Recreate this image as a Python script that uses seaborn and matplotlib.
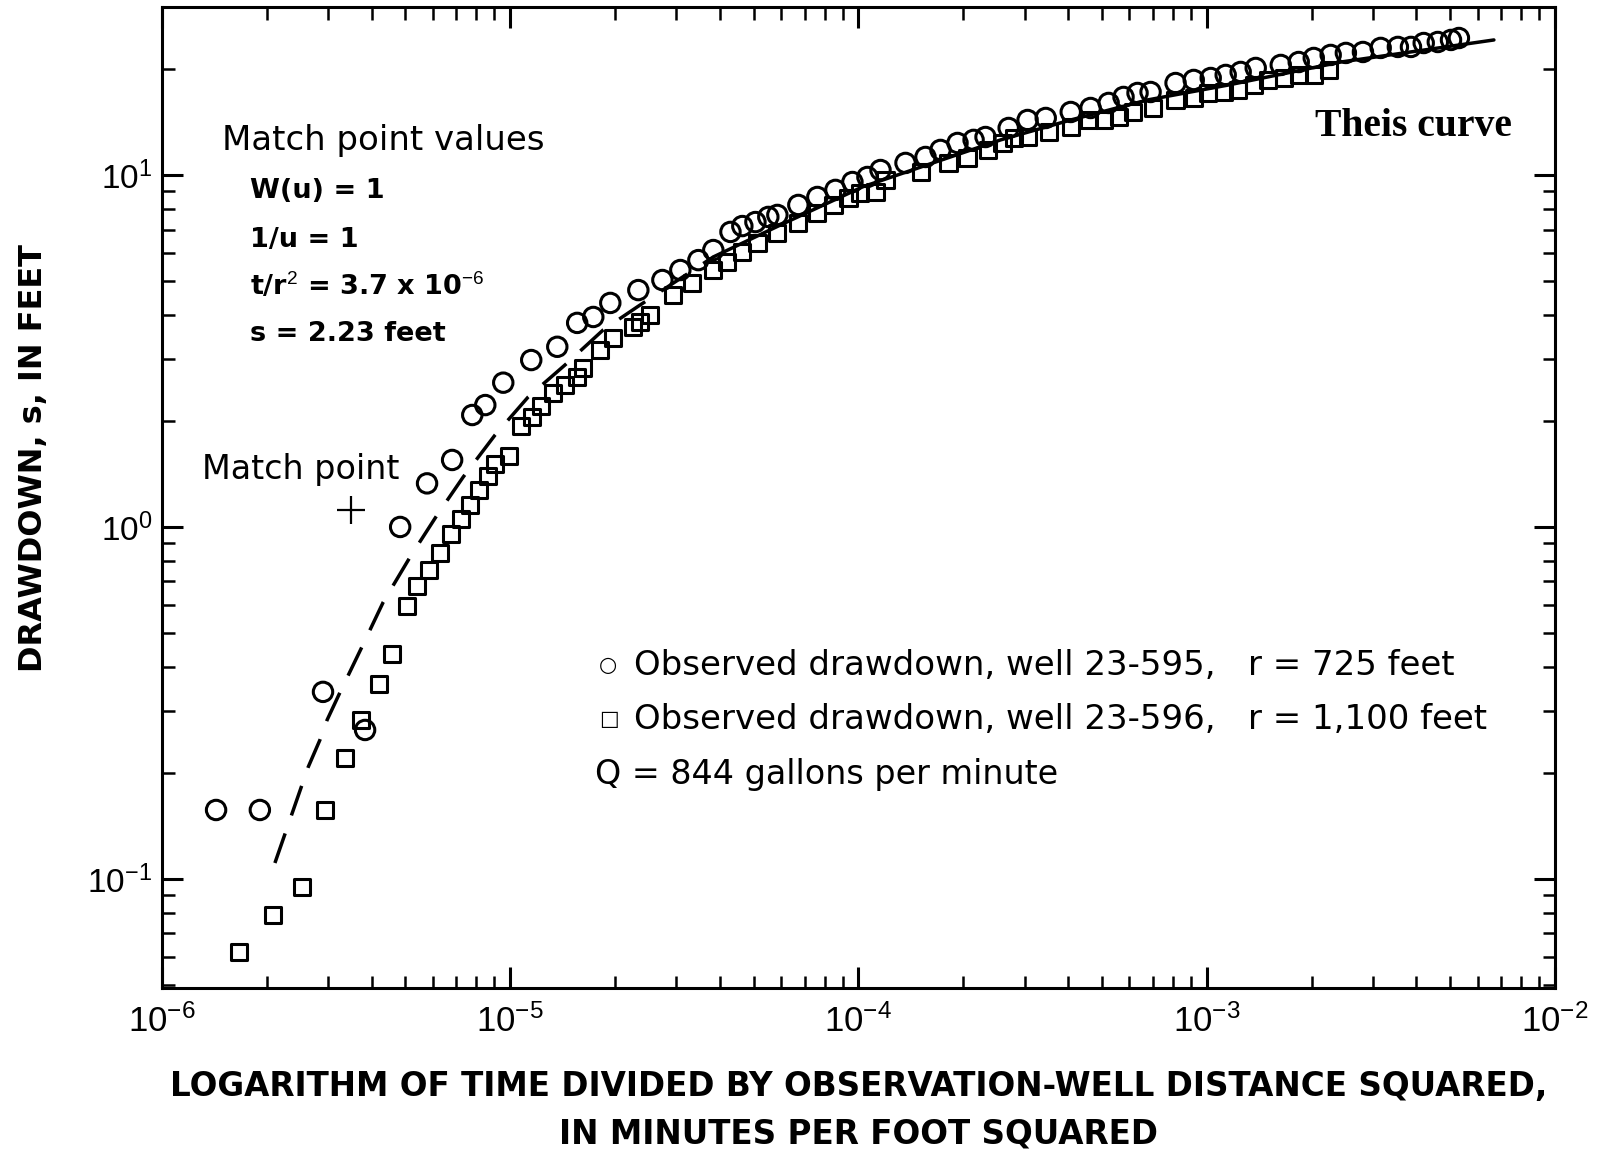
import matplotlib
matplotlib.use('Agg')
import matplotlib.pyplot as plt
import numpy as np
import pandas as pd
import seaborn as sns

# well 23-595 (circles): t/r^2 in min/ft^2, drawdown in feet
circ_t = [1.43e-6, 1.91e-6, 2.90e-6, 3.83e-6, 4.83e-6, 5.77e-6, 6.81e-6, 7.78e-6, 8.48e-6, 9.55e-6,
          1.149e-5, 1.365e-5, 1.557e-5, 1.732e-5, 1.938e-5, 2.333e-5, 2.735e-5, 3.08e-5, 3.47e-5, 3.83e-5,
          4.29e-5, 4.64e-5, 5.06e-5, 5.51e-5, 5.85e-5, 6.72e-5, 7.62e-5, 8.59e-5, 9.61e-5, 1.061e-4,
          1.157e-4, 1.365e-4, 1.558e-4, 1.720e-4, 1.925e-4, 2.141e-4, 2.317e-4, 2.70e-4, 3.06e-4, 3.45e-4,
          4.07e-4, 4.64e-4, 5.23e-4, 5.77e-4, 6.33e-4, 6.90e-4, 8.14e-4, 9.18e-4, 1.027e-3, 1.134e-3,
          1.252e-3, 1.383e-3, 1.632e-3, 1.838e-3, 2.03e-3, 2.27e-3, 2.51e-3, 2.81e-3, 3.16e-3, 3.54e-3,
          3.86e-3, 4.20e-3, 4.61e-3, 5.03e-3, 5.30e-3]
circ_s = [0.157, 0.157, 0.340, 0.265, 1.00, 1.33, 1.55, 2.08, 2.22, 2.57,
          2.98, 3.25, 3.80, 3.95, 4.33, 4.71, 5.03, 5.37, 5.73, 6.12,
          6.89, 7.16, 7.35, 7.60, 7.70, 8.22, 8.66, 9.07, 9.55, 9.87,
          10.33, 10.82, 11.25, 11.78, 12.33, 12.58, 12.82, 13.60, 14.33, 14.52,
          15.10, 15.50, 16.02, 16.66, 17.10, 17.21, 18.25, 18.62, 18.86, 19.24,
          19.62, 20.14, 20.54, 20.94, 21.50, 21.93, 22.22, 22.36, 22.96, 23.11,
          23.11, 23.71, 23.87, 24.19, 24.50]

# well 23-596 (squares)
sq_t = [1.665e-6, 2.08e-6, 2.525e-6, 2.94e-6, 3.36e-6, 3.73e-6, 4.20e-6, 4.58e-6, 5.06e-6, 5.40e-6,
        5.85e-6, 6.29e-6, 6.77e-6, 7.23e-6, 7.67e-6, 8.14e-6, 8.65e-6, 9.05e-6, 9.93e-6, 1.075e-5,
        1.157e-5, 1.228e-5, 1.329e-5, 1.439e-5, 1.557e-5, 1.621e-5, 1.814e-5, 1.977e-5, 2.256e-5, 2.363e-5,
        2.525e-5, 2.94e-5, 3.33e-5, 3.83e-5, 4.20e-5, 4.64e-5, 5.13e-5, 5.85e-5, 6.72e-5, 7.62e-5,
        8.48e-5, 9.36e-5, 1.013e-4, 1.119e-4, 1.196e-4, 1.508e-4, 1.814e-4, 2.057e-4, 2.35e-4, 2.593e-4,
        2.79e-4, 3.06e-4, 3.52e-4, 4.07e-4, 4.58e-4, 5.06e-4, 5.59e-4, 6.13e-4, 7.00e-4, 8.14e-4,
        9.18e-4, 1.007e-3, 1.119e-3, 1.228e-3, 1.365e-3, 1.497e-3, 1.665e-3, 1.838e-3, 2.03e-3, 2.243e-3]
sq_s = [0.0620, 0.0790, 0.0949, 0.157, 0.221, 0.283, 0.358, 0.436, 0.597, 0.680,
        0.755, 0.844, 0.955, 1.054, 1.155, 1.274, 1.396, 1.51, 1.59, 1.936,
        2.053, 2.21, 2.40, 2.53, 2.67, 2.83, 3.18, 3.44, 3.70, 3.82,
        4.00, 4.56, 4.93, 5.37, 5.66, 6.04, 6.41, 6.84, 7.31, 7.80,
        8.22, 8.61, 8.89, 8.95, 9.68, 10.2, 10.82, 11.18, 11.78, 12.33,
        12.74, 12.82, 13.25, 13.69, 14.33, 14.33, 14.61, 15.10, 15.50, 16.34,
        16.55, 17.10, 17.21, 17.44, 18.02, 18.62, 18.86, 19.24, 19.24, 19.88]

# Theis type curve as drawn (dashed part, then solid part)
theis_dash_t = [2.11e-6, 2.44e-6, 2.63e-6, 2.84e-6, 2.98e-6, 3.25e-6, 3.75e-6, 4.32e-6, 5.16e-6,
                6.17e-6, 7.33e-6, 9.05e-6, 1.126e-5, 1.439e-5, 1.85e-5, 2.317e-5, 2.94e-5, 3.83e-5]
theis_dash_s = [0.111, 0.168, 0.208, 0.248, 0.283, 0.340, 0.456, 0.612, 0.822,
                1.082, 1.387, 1.826, 2.34, 2.89, 3.63, 4.22, 4.93, 5.85]
theis_solid_t = [3.83e-5, 5.97e-5, 1.027e-4, 2.56e-4, 4.07e-4, 6.77e-4, 1.149e-3, 2.43e-3, 6.68e-3]
theis_solid_s = [5.85, 7.21, 9.25, 12.58, 14.33, 16.34, 18.0, 20.94, 24.19]

match_t = [3.5e-6]
match_s = [1.12]

sns.set_style('ticks')
plt.rcParams['font.family'] = ['Liberation Sans', 'DejaVu Sans']
plt.rcParams['mathtext.fontset'] = 'custom'
plt.rcParams['mathtext.rm'] = 'Liberation Sans'
plt.rcParams['mathtext.it'] = 'Liberation Sans:italic'
plt.rcParams['mathtext.bf'] = 'Liberation Sans:bold'
plt.rcParams['axes.linewidth'] = 2.2
for key in ['text.color', 'axes.labelcolor', 'xtick.color', 'ytick.color', 'axes.edgecolor']:
    plt.rcParams[key] = 'black'

fig = plt.figure(figsize=(16.15, 11.55), dpi=100)
ax = fig.add_axes([0.1003, 0.1446, 0.8625, 0.8493])
ax.set_xscale('log')
ax.set_yscale('log')

df_c = pd.DataFrame({'t': circ_t, 's': circ_s})
df_q = pd.DataFrame({'t': sq_t, 's': sq_s})
df_d = pd.DataFrame({'t': theis_dash_t, 's': theis_dash_s})
df_l = pd.DataFrame({'t': theis_solid_t, 's': theis_solid_s})

sns.lineplot(data=df_d, x='t', y='s', sort=False, estimator=None, color='black',
             lw=2.5, linestyle=(0, (9, 5.5)), ax=ax)
sns.lineplot(data=df_l, x='t', y='s', sort=False, estimator=None, color='black',
             lw=2.5, ax=ax)
sns.scatterplot(data=df_q, x='t', y='s', marker='s', s=135, facecolors='none',
                edgecolor='black', linewidth=2.2, ax=ax, zorder=3)
sns.scatterplot(data=df_c, x='t', y='s', marker='o', s=195, facecolors='none',
                edgecolor='black', linewidth=2.2, ax=ax, zorder=3)
sns.scatterplot(x=match_t, y=match_s, marker='+', s=420, color='black',
                linewidth=1.6, ax=ax, zorder=3)

ax.set_xlim(1e-6, 1e-2)
ax.set_ylim(0.049, 30)

ax.tick_params(which='both', direction='in', top=True, right=True)
ax.tick_params(which='major', length=15, width=2.2, labelsize=25, pad=12)
ax.tick_params(which='minor', length=9, width=1.8)
ax.tick_params(axis='y', which='major', pad=7, labelsize=24)

ax.set_xlabel('LOGARITHM OF TIME DIVIDED BY OBSERVATION-WELL DISTANCE SQUARED,\nIN MINUTES PER FOOT SQUARED',
              fontsize=23.5, fontweight='bold', linespacing=1.55, labelpad=22,
              family=['DejaVu Sans'])
ax.set_ylabel('DRAWDOWN, s, IN FEET', fontsize=23, fontweight='bold', family=['DejaVu Sans'])
ax.yaxis.set_label_coords(-0.081, 0.54)

ax.text(0.043, 0.864, 'Match point values', transform=ax.transAxes, fontsize=24.5,
        va='center', ha='left', family=['DejaVu Sans'])
info = ['W(u) = 1', '1/u = 1', r't/r$^2$ = 3.7 x 10$^{-6}$', 's = 2.23 feet']
info_y = [0.812, 0.763, 0.716, 0.667]
for txt, yy in zip(info, info_y):
    ax.text(0.063, yy, txt, transform=ax.transAxes, fontsize=19.5, fontweight='bold',
            va='center', ha='left', family=['DejaVu Sans'])

ax.text(0.0287, 0.529, 'Match point', transform=ax.transAxes, fontsize=24,
        va='center', ha='left', family=['DejaVu Sans'])
ax.text(0.969, 0.878, 'Theis curve', transform=ax.transAxes, fontsize=28.5,
        fontweight='bold', va='center', ha='right', family=['Liberation Serif', 'DejaVu Serif'])

# key: small symbol glyphs, then text
legend_syms = ['\u25cb', '\u25a1', '']
legend_lines = ['Observed drawdown, well 23-595,   r = 725 feet',
                'Observed drawdown, well 23-596,   r = 1,100 feet',
                'Q = 844 gallons per minute']
legend_y = [0.329, 0.274, 0.218]
for sym, txt, yy in zip(legend_syms, legend_lines, legend_y):
    if sym:
        ax.text(0.3135, yy, sym, transform=ax.transAxes, fontsize=15,
                va='center', ha='left', family=['DejaVu Sans'])
        ax.text(0.339, yy, txt, transform=ax.transAxes, fontsize=24.5,
                va='center', ha='left', family=['DejaVu Sans'])
    else:
        ax.text(0.311, yy, txt, transform=ax.transAxes, fontsize=24,
                va='center', ha='left', family=['DejaVu Sans'])

fig.savefig('out.png', dpi=100)
